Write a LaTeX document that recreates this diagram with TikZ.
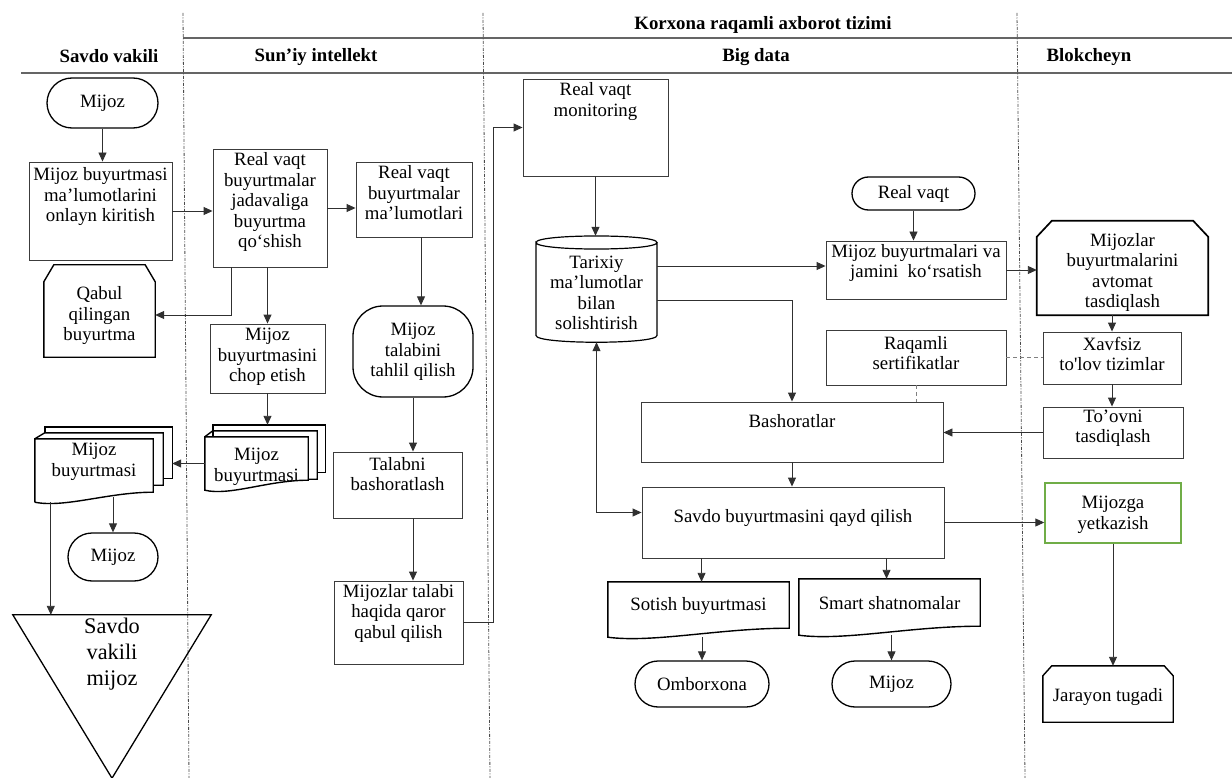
\documentclass[tikz,border=0pt]{standalone}
\usepackage{fontspec}
\setmainfont{Liberation Serif}
\usetikzlibrary{arrows.meta,calc,shapes.misc}
\definecolor{edge}{HTML}{3C3C3C}
\definecolor{wire}{HTML}{303030}
\definecolor{lane}{HTML}{4A4A4A}
\definecolor{okgreen}{HTML}{70AD47}

\begin{document}
\begin{tikzpicture}[x=1pt,y=-1pt,
  txt/.style={font=\fontsize{18.8}{20.5}\selectfont, align=center, inner sep=0pt},
  head/.style={font=\fontsize{18.8}{20.5}\selectfont\bfseries, inner sep=0pt},
  sz/.style 2 args={minimum width=#1pt, minimum height=#2pt},
  box/.style={rectangle, draw=edge, line width=0.9pt, inner sep=0pt},
  frame/.style={rectangle, inner sep=0pt},
  thk/.style={draw=black, line width=1.4pt},
  term/.style={rounded rectangle, draw=black, line width=1.3pt, inner sep=0pt,
    font=\fontsize{18.8}{20.5}\selectfont},
  arr/.style={draw=wire, line width=0.9pt, -{Triangle[length=9pt,width=8pt]}},
  arrboth/.style={draw=wire, line width=0.9pt,
    {Triangle[length=9pt,width=8pt]}-{Triangle[length=9pt,width=8pt]}},
  link/.style={draw=gray, line width=0.9pt, dash pattern=on 4pt off 3pt},
  lanesep/.style={draw=lane, line width=0.8pt,
    dash pattern=on 3pt off 1.5pt on 1pt off 1.5pt},
  rule/.style={draw=lane!85, line width=1.3pt}]

\useasboundingbox (0,0) rectangle (1232,778);

% ---------- swimlane frame ----------
\draw[rule] (183,38) -- (1232,38);
\draw[rule] (21,73) -- (1232,73);
\draw[lanesep] (183,13) -- (189,778);
\draw[lanesep] (483,13) -- (490,778);
\draw[lanesep] (1017,13) -- (1025,778);

\node[head] (hKorx) at (763,25) {Korxona raqamli axborot tizimi};
\node[head] (hSavdo) at (109,56) {Savdo vakili};
\node[head] (hSun) at (316,57) {Sun’iy intellekt};
\node[head] (hBig) at (756,57) {Big data};
\node[head] (hBlok) at (1089,57) {Blokcheyn};

% ---------- Savdo vakili / Sun'iy intellekt ----------
\node[term, sz={111}{50}] (m1) at (102.5,103) {Mijoz};

\node[box, sz={143}{98}] (b1) at (100.5,211) {};
\node[txt] (b1t) at (100.5,197) {Mijoz buyurtmasi\\ma’lumotlarini\\onlayn kiritish};

\node[box, sz={114}{118}] (b2) at (270,208) {};
\node[txt] (b2t) at (270,202) {Real vaqt\\buyurtmalar\\jadavaliga\\buyurtma\\qo‘shish};

\node[box, sz={116}{75}] (b3) at (414,199.5) {};
\node[txt] (b3t) at (414,193) {Real vaqt\\buyurtmalar\\ma’lumotlari};

\node[rectangle, draw=black, line width=1.3pt, rounded corners=30pt,
      inner sep=0pt, sz={120}{91}] (b4) at (413,351.5) {};
\node[txt] (b4t) at (413,352) {Mijoz\\talabini\\tahlil qilish};

\node[box, sz={129}{66}] (b5) at (397.5,485) {};
\node[txt] (b5t) at (397.5,474) {Talabni\\bashoratlash};

\node[box, sz={129}{83}] (b6) at (398.5,622.5) {};
\node[txt] (b6t) at (398.5,613) {Mijozlar talabi\\haqida qaror\\qabul qilish};

% accepted order (card with cut top corners)
\node[frame, sz={111}{92}] (qabul) at (99.5,311) {};
\draw[thk] (qabul.south west) -- ($(qabul.north west)+(0,17)$)
  -- ($(qabul.north west)+(10,0)$) -- ($(qabul.north east)+(-10,0)$)
  -- ($(qabul.north east)+(0,17)$) -- (qabul.south east) -- cycle;
\node[txt] (qabult) at (99.5,316) {Qabul\\qilingan\\buyurtma};

\node[box, sz={115}{69}] (b17) at (267.5,358.5) {};
\node[txt] (b17t) at (267.5,357) {Mijoz\\buyurtmasini\\chop etish};

% printed order, stacked documents (AI lane)
\node[frame, sz={104}{47}] (md1a) at (273,448.5) {};
\node[frame, sz={104}{48}] (md1b) at (265,455) {};
\node[frame, sz={103}{53}] (md1c) at (256.5,463.5) {};
\draw[thk] ($(md1b.north west)+(0,6)$) |- (md1a.north east)
  -- (md1a.south east) -- ($(md1a.south east)+(-8,0)$);
\draw[thk] ($(md1c.north west)+(0,0)$) -- ($(md1b.north west)$)
  -- (md1b.north east) -- (md1b.south east) -- ($(md1b.south east)+(-9,0)$);
\draw[thk] (md1c.south west) -- (md1c.north west) -- (md1c.north east)
  -- ($(md1c.south east)+(0,-10)$)
  .. controls ($(md1c.south east)+(-40,-10)$) and ($(md1c.south west)+(25,6)$)
  .. (md1c.south west) -- cycle;
\node[txt] (md1t) at (256.5,467) {Mijoz\\buyurtmasi};

% printed order, stacked documents (sales lane)
\node[frame, sz={118}{51}] (md2a) at (113,452.5) {};
\node[frame, sz={118}{52}] (md2b) at (104,459) {};
\node[frame, sz={118}{58}] (md2c) at (94,468) {};
\draw[thk] ($(md2b.north west)$) |- (md2a.north east)
  -- (md2a.south east) -- ($(md2a.south east)+(-9,0)$);
\draw[thk] (md2c.north west) -- (md2b.north west)
  -- (md2b.north east) -- (md2b.south east) -- ($(md2b.south east)+(-10,0)$);
\draw[thk] ($(md2c.south west)+(0,5)$) -- (md2c.north west) -- (md2c.north east)
  -- ($(md2c.south east)+(0,-5)$)
  .. controls ($(md2c.south east)+(-45,-5)$) and ($(md2c.south west)+(30,11)$)
  .. ($(md2c.south west)+(0,5)$);
\node[txt] (md2t) at (94,462) {Mijoz\\buyurtmasi};

\node[term, sz={90}{48}] (t4) at (113,557) {Mijoz};

% sales representative (inverted triangle)
\node[frame, sz={198}{163}] (tri) at (112,696.5) {};
\draw[thk, line width=1.3pt] (tri.north west) -- (tri.north east) -- (tri.south) -- cycle;
\node[txt, font=\fontsize{22.3}{26}\selectfont] (trit) at (112,654) {Savdo\\vakili\\mijoz};

% ---------- Big data ----------
\node[box, sz={145}{97}] (b7) at (595.5,127.5) {};
\node[txt] (b7t) at (595.5,101.5) {Real vaqt\\monitoring};

% history database (cylinder)
\node[frame, sz={121}{106}] (cyl) at (596.5,289) {};
\draw[line width=1.2pt] (536,242.5) .. controls (536,233.8) and (657,233.8) .. (657,242.5)
  .. controls (657,251.2) and (536,251.2) .. (536,242.5)
  -- (536,335.5) .. controls (536,344.5) and (657,344.5) .. (657,335.5) -- (657,242.5);
\node[txt] (cylt) at (596.5,293) {Tarixiy\\ma’lumotlar\\bilan\\solishtirish};

\node[term, sz={123}{33}] (rvq) at (913.5,193.5) {Real vaqt};

\node[box, sz={180}{58}] (b8) at (916,270) {};
\node[txt] (b8t) at (916,263) {Mijoz buyurtmalari va\\jamini\ \ ko‘rsatish};

\node[box, sz={180}{55}] (b11) at (916,357.5) {};
\node[txt] (b11t) at (916,353) {Raqamli\\sertifikatlar};

\node[box, sz={302}{60}] (b13) at (792,432) {};
\node[txt] (b13t) at (792,421) {Bashoratlar};

\node[box, sz={302}{71}] (b14) at (793,522.5) {};
\node[txt] (b14t) at (793,518) {Savdo buyurtmasini qayd qilish};

% output documents
\node[frame, sz={181}{55}] (doc1) at (698.5,609.5) {};
\draw[thk] (doc1.south west) -- (doc1.north west) -- (doc1.north east)
  -- ($(doc1.south east)+(0,-9)$)
  .. controls ($(doc1.south east)+(-70,-9)$) and ($(doc1.south west)+(45,6)$)
  .. (doc1.south west) -- cycle;
\node[txt] (doc1t) at (698.5,606) {Sotish buyurtmasi};

\node[frame, sz={181}{56}] (doc2) at (889.5,607) {};
\draw[thk] (doc2.south west) -- (doc2.north west) -- (doc2.north east)
  -- ($(doc2.south east)+(0,-9)$)
  .. controls ($(doc2.south east)+(-70,-9)$) and ($(doc2.south west)+(45,6)$)
  .. (doc2.south west) -- cycle;
\node[txt] (doc2t) at (889.5,603) {Smart shatnomalar};

\node[term, sz={134}{46}] (t2) at (702,684) {Omborxona};
\node[term, sz={119}{46}] (t3) at (891.5,684) {Mijoz};

% ---------- Blokcheyn ----------
\node[frame, sz={171}{94}] (b9) at (1122.5,268) {};
\draw[draw=black, line width=1.7pt] (b9.south west) -- ($(b9.north west)+(0,16)$)
  -- ($(b9.north west)+(15,0)$) -- ($(b9.north east)+(-15,0)$)
  -- ($(b9.north east)+(0,16)$) -- (b9.south east) -- cycle;
\node[txt] (b9t) at (1122.5,272.5) {Mijozlar\\buyurtmalarini\\avtomat\\tasdiqlash};

\node[box, sz={138}{52}] (b10) at (1112,358) {};
\node[txt] (b10t) at (1112,354) {Xavfsiz\\to\textquotesingle lov tizimlar};

\node[box, sz={140}{51}] (b12) at (1113,432.5) {};
\node[txt] (b12t) at (1113,428) {To’ovni\\tasdiqlash};

\node[rectangle, draw=okgreen, line width=1.4pt, inner sep=0pt, sz={136}{60}] (b15) at (1113,513) {};
\node[txt] (b15t) at (1113,515) {Mijozga\\yetkazish};

\node[frame, sz={130}{56}] (b16) at (1108,694) {};
\draw[thk] (b16.south west) -- ($(b16.north west)+(0,10)$)
  -- ($(b16.north west)+(9,0)$) -- ($(b16.north east)+(-9,0)$)
  -- ($(b16.north east)+(0,10)$) -- (b16.south east) -- cycle;
\node[txt] (b16t) at (1108,697) {Jarayon tugadi};

% ---------- connectors ----------
\draw[arr] (m1.south) -- (m1.south |- b1.north);
\draw[arr] (b1.east) -- (b1.east -| b2.west);
\draw[arr] (b2.east) -- (b2.east -| b3.west);
\path ($(b3.south)+(7,0)$) coordinate (c0);
\draw[arr] (c0) -- (c0 |- b4.north);
\draw[arr] (b4.south) -- (b4.south |- b5.north);
\draw[arr] (b4.south |- b5.south) -- (b4.south |- b6.north);
\draw[arr] (b6.east) -- ++(30,0) |- (b7.west);

\path ($(b2.south west)+(19,0)$) coordinate (c4);
\draw[arr] (c4) |- ($(qabul.east)+(0,4)$);
\draw[arr] (b17.north |- b2.south) -- (b17.north);
\draw[arr] (b17.south) -- (b17.south |- md1a.north);
\draw[arr] (md1c.west) -- (md1c.west -| md2a.east);
\draw[arr] (t4.north |- md2c.south) -- (t4.north);
\path ($(md2c.south west)+(16,5)$) coordinate (c5);
\draw[arr] (c5) -- (c5 |- tri.north);

\draw[arr] (b7.south) -- (b7.south |- cyl.north);
\path ($(cyl.east)+(0,-23)$) coordinate (c1);
\draw[arr] (c1) -- (c1 -| b8.west);
\draw[arr] ($(cyl.east)+(0,11)$) -| (b13.north);
\draw[arr] (rvq.south) -- (rvq.south |- b8.north);
\draw[arr] (b8.east) -- (b8.east -| b9.west);
\draw[arr] (b10.north |- b9.south) -- (b10.north);
\draw[arr] (b10.south) -- (b10.south |- b12.north);
\draw[link] (b11.east) -- (b11.east -| b10.west);
\draw[link] (b11.south) -- (b11.south |- b13.north);
\draw[arr] (b12.west) -- (b12.west -| b13.east);
\draw[arr] (b13.south) -- (b13.south |- b14.north);
\draw[arrboth] (cyl.south) |- ($(b14.west)+(0,-10)$);
\draw[arr] (b14.east) -- (b14.east -| b15.west);
\draw[arr] (b15.south) -- (b15.south |- b16.north);
\path ($(b14.south west)+(60,0)$) coordinate (c3);
\draw[arr] (c3) -- (c3 |- doc1.north);
\path ($(b14.south west)+(245,0)$) coordinate (c6);
\draw[arr] (c6) -- (c6 |- doc2.north);
\draw[arr] (t2.north |- doc1.south) -- (t2.north);
\draw[arr] (t3.north |- doc2.south) -- (t3.north);
\end{tikzpicture}
\end{document}
